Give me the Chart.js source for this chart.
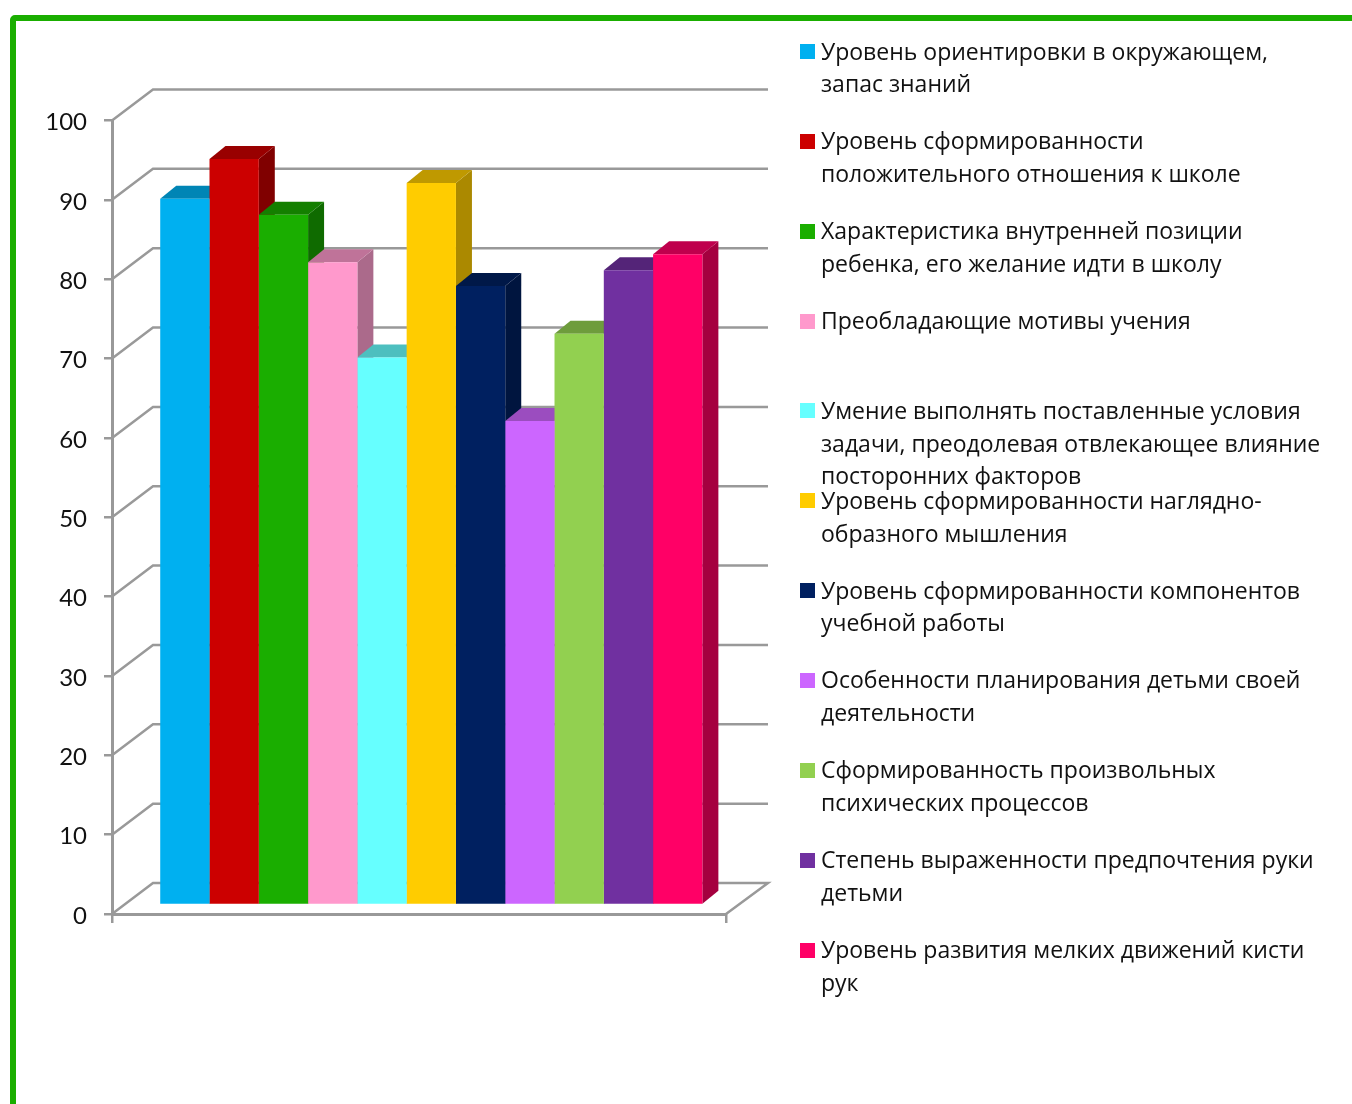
<!DOCTYPE html>
<html lang="ru">
<head>
<meta charset="utf-8">
<title>Диаграмма</title>
<script src="https://cdn.jsdelivr.net/npm/chart.js@4"></script>
<style>
html, body { margin: 0; padding: 0; background: #fff; }
#page { position: relative; width: 1352px; height: 1104px; overflow: hidden; background: #fff; }
#frame { position: absolute; left: 9.5px; top: 15px; width: 1400px; height: 1200px; border: 6px solid #1aae00; border-radius: 5px; }
#barChart { position: absolute; left: 0; top: 0; }
#legend { position: absolute; left: 0; top: 0; font-family: "Open Sans", sans-serif; font-size: 23px; line-height: 32.8px; color: #111; }
.item { position: absolute; left: 821px; white-space: pre; }
.swatch { position: absolute; left: -21px; top: 9.5px; width: 15px; height: 15px; }
</style>
</head>
<body>
<div id="page">
  <div id="frame"></div>
  <canvas id="barChart" width="1352" height="1104"></canvas>
  <div id="legend"></div>
</div>
<script>
const categories = [
    'Уровень ориентировки в окружающем,\nзапас знаний',
    'Уровень сформированности\nположительного отношения к школе',
    'Характеристика внутренней позиции\nребенка, его желание идти в школу',
    'Преобладающие мотивы учения',
    'Умение выполнять поставленные условия\nзадачи, преодолевая отвлекающее влияние\nпосторонних факторов',
    'Уровень сформированности наглядно-\nобразного мышления',
    'Уровень сформированности компонентов\nучебной работы',
    'Особенности планирования детьми своей\nдеятельности',
    'Сформированность произвольных\nпсихических процессов',
    'Степень выраженности предпочтения руки\nдетьми',
    'Уровень развития мелких движений кисти\nрук'
];
const values = [89, 94, 87, 81, 69, 91, 78, 61, 72, 80, 82];
const colors = ['#00b0f0', '#cc0000', '#1aae00', '#ff99cc', '#66ffff', '#ffcc00', '#002060', '#cc66ff', '#92d050', '#7030a0', '#ff0066'];
const topColors = ['#0085b5', '#990000', '#147f00', '#bf7399', '#4dbfbf', '#bf9900', '#001848', '#9b4dbf', '#6e9c3c', '#542478', '#bf004d'];
const sideColors = ['#0073a0', '#800000', '#0f6b00', '#ab6a8b', '#43a8a8', '#ab8900', '#00153f', '#8543a8', '#5f8834', '#4a1f6a', '#a5003f'];
const yTicks = [0, 10, 20, 30, 40, 50, 60, 70, 80, 90, 100];

const axisColor = '#999999';
const wall = { dx: 41, dy: -31, right: 768 };   // back wall offset
const barShift = { x: 12.3, y: -9 };            // bars stand in the middle of the floor
const depth = { x: 16, y: -13 };                // visible depth of one bar

const walls3d = {
    id: 'walls3d',
    beforeDatasetsDraw(chart) {
        const ctx = chart.ctx;
        const y = chart.scales.y;
        const left = chart.chartArea.left;
        const right = chart.chartArea.right;

        // gridlines on the side and back wall
        ctx.save();
        ctx.strokeStyle = axisColor;
        ctx.lineWidth = 2.5;
        yTicks.forEach(t => {
            const py = y.getPixelForValue(t);
            ctx.beginPath();
            ctx.moveTo(left, py);
            ctx.lineTo(left + wall.dx, py + wall.dy);
            ctx.lineTo(wall.right, py + wall.dy);
            if (t === 0) ctx.lineTo(right, py);
            ctx.stroke();
        });

        // side and top faces, left to right, the fronts go over them
        ctx.translate(barShift.x, barShift.y);
        chart.data.datasets.forEach((ds, i) => {
            const bar = chart.getDatasetMeta(i).data[0];
            const x0 = bar.x - bar.width / 2;
            const x1 = bar.x + bar.width / 2;
            ctx.fillStyle = sideColors[i];
            ctx.beginPath();
            ctx.moveTo(x1, bar.y);
            ctx.lineTo(x1 + depth.x, bar.y + depth.y);
            ctx.lineTo(x1 + depth.x, bar.base + depth.y);
            ctx.lineTo(x1, bar.base);
            ctx.closePath();
            ctx.fill();
            ctx.fillStyle = topColors[i];
            ctx.beginPath();
            ctx.moveTo(x0, bar.y);
            ctx.lineTo(x0 + depth.x, bar.y + depth.y);
            ctx.lineTo(x1 + depth.x, bar.y + depth.y);
            ctx.lineTo(x1, bar.y);
            ctx.closePath();
            ctx.fill();
        });
        ctx.restore();

        // front faces are drawn by the chart itself
        ctx.save();
        ctx.translate(barShift.x, barShift.y);
    },
    afterDatasetsDraw(chart) {
        chart.ctx.restore();
    }
};

const chart = new Chart(document.getElementById('barChart').getContext('2d'), {
    type: 'bar',
    data: {
        labels: [''],
        datasets: categories.map((c, i) => ({
            label: c,
            data: [values[i]],
            backgroundColor: colors[i],
            borderWidth: 0
        }))
    },
    options: {
        responsive: false,
        animation: false,
        categoryPercentage: 0.883,
        barPercentage: 1,
        layout: { padding: { left: 12, right: 626, top: 120.5, bottom: 160 } },
        plugins: { legend: { display: false }, tooltip: { enabled: false } },
        scales: {
            x: {
                grid: { drawOnChartArea: false, color: axisColor, lineWidth: 2.5, tickLength: 9 },
                border: { color: axisColor, width: 3 },
                ticks: { display: false },
                afterFit(s) { s.height = 30; }
            },
            y: {
                min: 0,
                max: 100,
                afterBuildTicks(s) { s.ticks = yTicks.map(v => ({ value: v })); },
                grid: { drawOnChartArea: false, color: axisColor, lineWidth: 2.5, tickLength: 8 },
                border: { color: axisColor, width: 3 },
                ticks: {
                    color: '#111',
                    padding: 17,
                    // empty first line pushes the number down a little
                    callback: v => ['', String(v)],
                    font: { family: 'Lato', size: 24, lineHeight: 0.17 }
                },
                afterFit(s) { s.width = 100; }
            }
        }
    },
    plugins: [walls3d]
});

// legend as plain text next to the chart
const legendBox = document.getElementById('legend');
categories.forEach((c, i) => {
    const item = document.createElement('div');
    item.className = 'item';
    item.style.top = (34.5 + i * 89.85) + 'px';
    item.textContent = c;
    const swatch = document.createElement('span');
    swatch.className = 'swatch';
    swatch.style.background = colors[i];
    item.appendChild(swatch);
    legendBox.appendChild(item);
});
</script>
</body>
</html>
